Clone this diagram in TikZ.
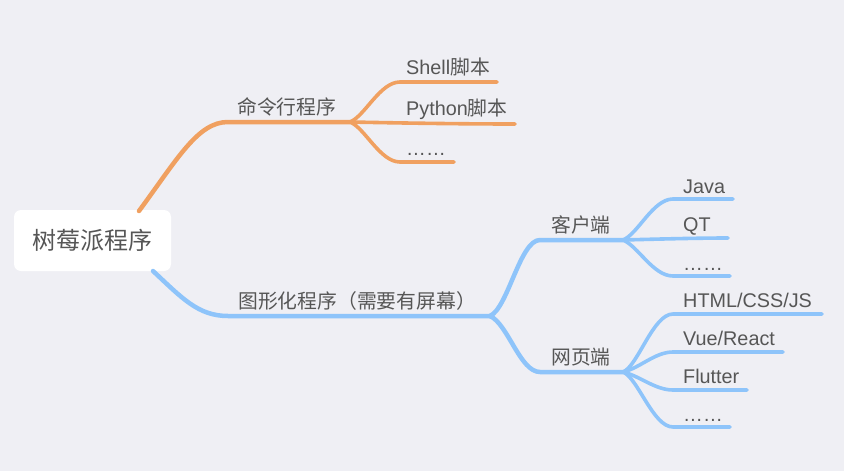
\documentclass[tikz,border=0pt]{standalone}
\usepackage{fontspec}
\setmainfont{Liberation Sans}
\newfontfamily\cjk{Noto Sans CJK SC}
\usetikzlibrary{calc}
\definecolor{bg}{HTML}{EFEFF4}
\definecolor{orangeb}{HTML}{F0A060}
\definecolor{blueb}{HTML}{8EC4FA}
\definecolor{txt}{HTML}{565656}
\tikzset{
  lbl/.style={anchor=base west, inner sep=0pt, text=txt, font=\fontsize{19.8}{24}\selectfont},
  rootbox/.style={fill=white, rounded corners=7pt, minimum width=157pt, minimum height=61pt, inner sep=0pt, text=txt, font=\cjk\fontsize{24}{29}\selectfont},
  mainline/.style={line width=4.5pt, line cap=round},
  leafline/.style={line width=3.6pt, line cap=round},
}
\begin{document}
\begin{tikzpicture}[x=1pt,y=-1pt]
\fill[bg] (0,0) rectangle (844,471);
\useasboundingbox (0,0) rectangle (844,471);

% root
\node[rootbox] (root) at (92.5,240.5) {树莓派程序};

% ---------------- orange branch
\coordinate (oS) at (139,211);
\coordinate (oA) at (228,122);
\coordinate (oB) at (350,122);
\draw[mainline, orangeb] (oS) .. controls (178,158) and (198,122) .. (oA) -- (oB);
\node[lbl] (cmd) at (237,114) {\cjk 命令行程序};

\coordinate (o1a) at (400,82);  \coordinate (o1b) at (497,82);
\coordinate (o2b) at (515,124);
\coordinate (o3a) at (400,162); \coordinate (o3b) at (454,162);
\draw[leafline, orangeb] (oB) .. controls (365,116) and (380,82) .. (o1a) -- (o1b);
\draw[leafline, orangeb] (oB) .. controls (400,123) and (460,124) .. (o2b);
\draw[leafline, orangeb] (oB) .. controls (365,128) and (380,162) .. (o3a) -- (o3b);
\node[lbl] (shell) at (406,74) {Shell{\cjk 脚本}};
\node[lbl] (py) at (406,115) {Python{\cjk 脚本}};
\node[lbl] (odots) at (406,155) {……};

% ---------------- blue branch
\coordinate (bS) at (153,271);
\coordinate (bA) at (228,316);
\coordinate (bB) at (490,316);
\draw[mainline, blueb] (bS) .. controls (182,298) and (198,316) .. (bA) -- (bB);
\node[lbl] (gui) at (238,308) {\cjk 图形化程序（需要有屏幕）};

\coordinate (c1a) at (540,240); \coordinate (c1b) at (623,240);
\coordinate (c2a) at (540,372); \coordinate (c2b) at (623,372);
\draw[mainline, blueb] (bB) .. controls (508,308) and (520,240) .. (c1a) -- (c1b);
\draw[mainline, blueb] (bB) .. controls (508,324) and (520,372) .. (c2a) -- (c2b);
\node[lbl] (client) at (551,232) {\cjk 客户端};
\node[lbl] (web) at (551,364) {\cjk 网页端};

% client leaves
\coordinate (j1a) at (673,199); \coordinate (j1b) at (733,199);
\coordinate (j2b) at (728,238);
\coordinate (j3a) at (673,276); \coordinate (j3b) at (730,276);
\draw[leafline, blueb] (c1b) .. controls (638,234) and (653,199) .. (j1a) -- (j1b);
\draw[leafline, blueb] (c1b) .. controls (660,239) and (700,238) .. (j2b);
\draw[leafline, blueb] (c1b) .. controls (638,246) and (653,276) .. (j3a) -- (j3b);
\node[lbl] (java) at (683,193) {Java};
\node[lbl] (qt) at (683,231) {QT};
\node[lbl] (cdots) at (683,270) {……};

% web leaves
\coordinate (w1a) at (673,314); \coordinate (w1b) at (822,314);
\coordinate (w2a) at (673,352); \coordinate (w2b) at (783,352);
\coordinate (w3a) at (673,390); \coordinate (w3b) at (747,390);
\coordinate (w4a) at (673,427); \coordinate (w4b) at (730,427);
\draw[leafline, blueb] (c2b) .. controls (638,366) and (653,314) .. (w1a) -- (w1b);
\draw[leafline, blueb] (c2b) .. controls (640,368) and (655,352) .. (w2a) -- (w2b);
\draw[leafline, blueb] (c2b) .. controls (640,376) and (655,390) .. (w3a) -- (w3b);
\draw[leafline, blueb] (c2b) .. controls (638,378) and (653,427) .. (w4a) -- (w4b);
\node[lbl] (html) at (683,307) {HTML/CSS/JS};
\node[lbl] (vue) at (683,345) {Vue/React};
\node[lbl] (flutter) at (683,383) {Flutter};
\node[lbl] (wdots) at (683,421) {……};
\end{tikzpicture}
\end{document}
